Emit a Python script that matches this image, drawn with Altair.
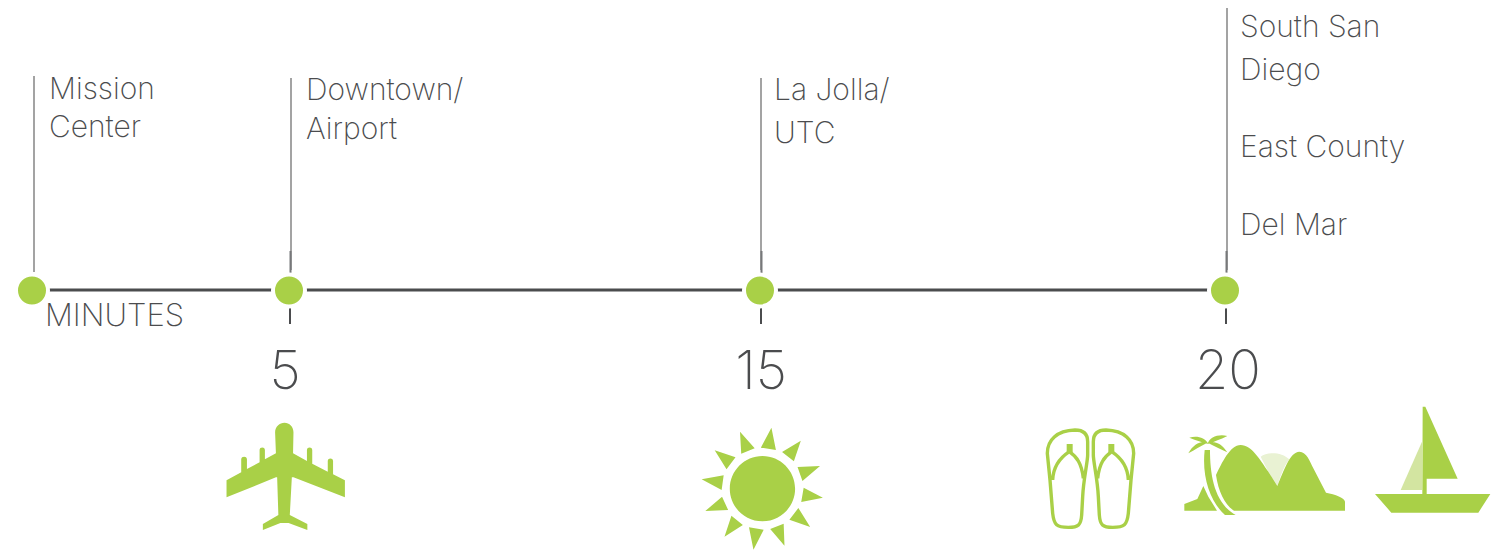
import re
import altair as alt
import pandas as pd

MINUTES = [0, 5, 15, 20]
TICK_LABELS = ["5", "15", "20"]
TICK_MINUTES = [5, 15, 20]
UNIT_LABEL = "MINUTES"
PLACES = {
    0: ["Mission", "Center"],
    5: ["Downtown/", "Airport"],
    15: ["La Jolla/", "UTC"],
    20: ["South San", "Diego", "East County", "Del Mar"],
}

GREEN = "#a9d047"
PALE = "#d3e5a1"
PALEST = "#e9f2d3"
DARK = "#4b4c4e"
GREY = "#a3a3a3"
FONT = "Inter"

# drawing geometry (image pixels, page margin removed)
M = 8
x_scale = alt.Scale(domain=MINUTES, range=[32 - M, 289 - M, 760 - M, 1225 - M])
X = alt.X("m:Q", scale=x_scale, axis=None)


def glyph(path, sx, sy, ox, oy, minute, mirror=None):
    """Turn a pictogram path drawn in zoom coordinates into one relative to its stop."""
    cx = {5: 289, 15: 760, 20: 1225}[minute]
    cy = 460
    def rep(mo):
        a, b = float(mo.group(1)), float(mo.group(2))
        if mirror is not None:
            a = mirror - a
        return f"{ox + a / sx - cx:.2f},{oy + b / sy - cy:.2f}"
    return re.sub(r"(-?[\d.]+),(-?[\d.]+)", rep, path)


def p1(path, minute):
    return glyph(path, 2.45, 3, 200, 400, minute)


def p2(path, minute=20, mirror=None):
    return glyph(path, 3, 3, 1030, 400, minute, mirror)


PLANE = ("M207,68 C195,68 184,80 184,97 L186,160 L159,178 L159,150 C159,140 146,140 146,150 L146,187 L115,207 "
         "L115,178 C115,168 101,168 101,178 L101,217 L65,241 L65,292 L186,232 L189,232 L192,345 L154,372 L154,390 "
         "L197,369 L217,369 L263,390 L263,372 L220,345 L225,232 L229,232 L355,292 L355,241 L326,223 L326,183 "
         "C326,173 313,173 313,183 L313,215 L275,191 L275,150 C275,140 262,140 262,150 L262,183 L228,160 L229,97 "
         "C229,80 219,68 207,68 Z")
RAYS = [
    [(1400, 83), (1374, 143), (1411, 150)], [(1472, 122), (1426, 156), (1455, 184)],
    [(1519, 198), (1464, 201), (1476, 243)], [(1526, 293), (1479, 263), (1473, 306)],
    [(1495, 381), (1466, 324), (1444, 359)], [(1432, 437), (1430, 371), (1397, 387)],
    [(1356, 449), (1381, 389), (1345, 382)], [(1285, 410), (1330, 375), (1302, 347)],
    [(1238, 333), (1294, 330), (1279, 290)], [(1229, 238), (1283, 226), (1278, 270)],
    [(1261, 151), (1312, 172), (1290, 208)], [(1323, 95), (1359, 145), (1326, 161)],
]
SUN = ("M1378,168 C1422,168 1458,212 1458,266 C1458,320 1422,364 1378,364 "
       "C1334,364 1298,320 1298,266 C1298,212 1334,168 1378,168 Z ")
SUN += " ".join(f"M{a[0]},{a[1]} L{b[0]},{b[1]} L{c[0]},{c[1]} Z" for a, b, c in RAYS)

SANDAL = ("M52,160 C52,120 80,92 135,90 C165,90 173,105 173,125 L173,165 C173,185 160,240 158,290 L155,345 "
          "C153,375 145,382 115,382 C80,382 72,375 68,340 L60,240 Z "
          "M68,240 C70,195 95,170 118,155 C140,170 155,190 160,235")
THONG = "M110,132 L128,132 L128,157 L110,157 Z"
ISLAND = ("M558,225 C575,190 600,135 632,135 C665,135 690,180 715,215 L742,258 C760,215 780,155 808,155 "
          "C830,155 840,185 850,205 L888,278 C915,282 945,295 945,305 L945,332 L612,332 C585,315 565,275 558,225 Z "
          "M463,332 L463,312 L502,297 L520,258 L535,290 L561,332 Z "
          "M524,150 L540,150 C540,230 555,310 617,345 L585,345 C540,305 515,230 524,150 Z "
          "M478,113 C500,106 525,112 535,132 C515,126 500,122 478,113 Z "
          "M592,108 C565,101 538,112 533,132 C555,124 570,119 592,108 Z "
          "M475,160 C490,131 515,121 532,128 C510,139 495,149 475,160 Z "
          "M592,157 C575,131 555,121 533,128 C555,139 575,149 592,157 Z")
HAZE = "M692,170 C710,155 755,155 778,178 C760,200 750,235 742,258 L715,215 Z"
BOAT = ("M1178,20 L1186,20 L1283,236 L1190,236 L1190,282 L1177,282 Z "
        "M1035,282 L1381,282 L1345,338 L1084,338 Z")
JIB = "M1176,125 L1176,270 L1112,270 Z"

base = alt.Chart(pd.DataFrame({"m": MINUTES}))
layers = []

# axis line, broken at every stop
segments = pd.DataFrame({"m": MINUTES[:-1], "m2": MINUTES[1:]})
layers.append(
    alt.Chart(segments).mark_rule(color=DARK, strokeWidth=3).encode(
        x=X, x2="m2:Q", y=alt.value(290 - M)
    )
)

# stems above the line
tops = {0: 76, 5: 78, 15: 78, 20: 8}
for m in MINUTES:
    layers.append(
        alt.Chart(pd.DataFrame({"m": [m]})).mark_rule(color=GREY, strokeWidth=2).encode(
            x=X, xOffset=alt.value(2 if m != 15 else 1), y=alt.value(tops[m] - M),
            y2=alt.value((272 if m == 0 else 270) - M)
        )
    )
# darker foot of the stems and tick under the line
ticks = pd.DataFrame({"m": TICK_MINUTES})
layers.append(
    alt.Chart(ticks).mark_rule(color="#77787a", strokeWidth=2).encode(
        x=X, xOffset=alt.value(1.5), y=alt.value(251 - M), y2=alt.value(275 - M)
    )
)
layers.append(
    alt.Chart(ticks).mark_rule(color=DARK, strokeWidth=2).encode(
        x=X, xOffset=alt.value(1), y=alt.value(308 - M), y2=alt.value(324 - M)
    )
)

# stops
layers.append(
    base.mark_point(filled=True, color=GREEN, stroke="white", strokeWidth=4, size=1024, opacity=1).encode(
        x=X, y=alt.value(290.5 - M)
    )
)

# place names
baselines = {
    0: [99, 137], 5: [100, 139], 15: [100, 143], 20: [37, 80, 157, 235],
}
text_dx = {0: 17, 5: 17, 15: 14, 20: 15}
for m, names in PLACES.items():
    for name, by in zip(names, baselines[m]):
        layers.append(
            alt.Chart(pd.DataFrame({"m": [m], "t": [name]})).mark_text(
                font=FONT, fontWeight=200, fontSize=30, color=DARK, align="left",
                baseline="alphabetic", dx=text_dx[m]
            ).encode(x=X, y=alt.value(by - M), text="t:N")
        )

# minutes
layers.append(
    alt.Chart(pd.DataFrame({"m": [0], "t": [UNIT_LABEL]})).mark_text(
        font=FONT, fontWeight=200, fontSize=31, color=DARK, align="left",
        baseline="alphabetic", dx=13
    ).encode(x=X, y=alt.value(326 - M), text="t:N")
)
num_dx = {5: -4, 15: 1, 20: 3}
for m, lab in zip(TICK_MINUTES, TICK_LABELS):
    layers.append(
        alt.Chart(pd.DataFrame({"m": [m], "t": [lab]})).mark_text(
            font=FONT, fontWeight=200, fontSize=54, color=DARK, align="center",
            baseline="alphabetic", dx=num_dx[m]
        ).encode(x=X, y=alt.value(389 - M), text="t:N")
    )

# pictograms
fills = [
    (5, p1(PLANE, 5), GREEN),
    (15, p1(SUN, 15), GREEN),
    (20, p2(THONG), GREEN),
    (20, p2(THONG, mirror=363), GREEN),
    (20, p2(HAZE), PALEST),
    (20, p2(ISLAND), GREEN),
    (20, p2(JIB), PALE),
    (20, p2(BOAT), GREEN),
]
for m, path, col in fills:
    layers.append(
        alt.Chart(pd.DataFrame({"m": [m]})).mark_point(
            shape=path, filled=True, color=col, size=4, opacity=1
        ).encode(x=X, y=alt.value(460 - M))
    )
for path in [p2(SANDAL), p2(SANDAL, mirror=363)]:
    layers.append(
        alt.Chart(pd.DataFrame({"m": [20]})).mark_point(
            shape=path, filled=False, stroke=GREEN, strokeWidth=3.4, size=4, opacity=1
        ).encode(x=X, y=alt.value(460 - M))
    )

chart = alt.layer(*layers).properties(
    width=1492, height=542, padding=0, autosize=alt.AutoSizeParams(type="none")
).configure_view(stroke=None)

chart.save("out.html", embed_options={"renderer": "svg", "actions": False})
